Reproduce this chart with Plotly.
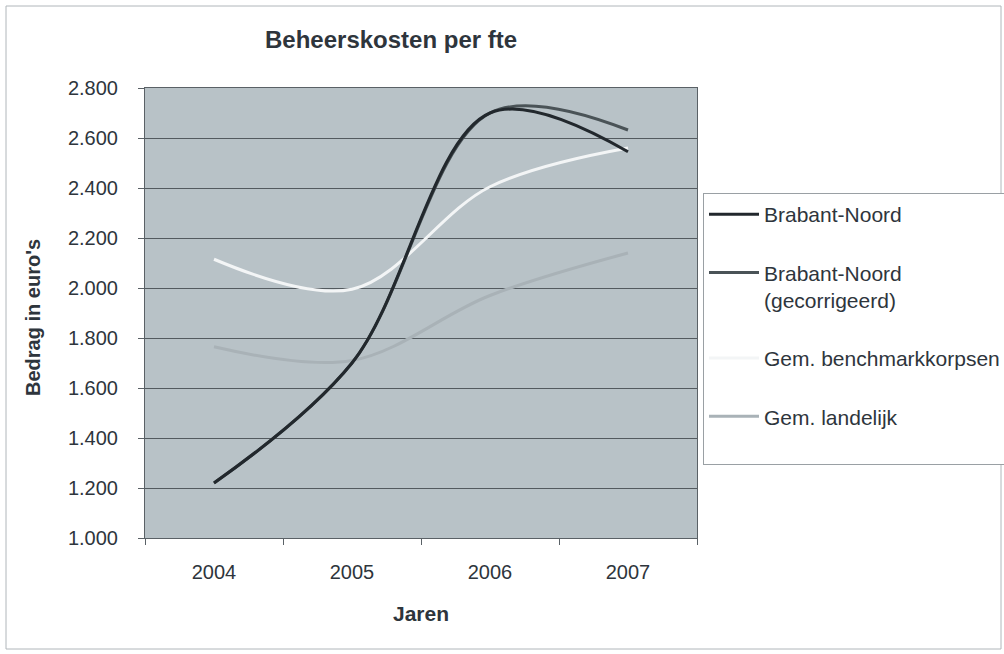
import plotly.graph_objects as go

years = ["2004", "2005", "2006", "2007"]
brabant_noord = [1220, 1700, 2700, 2545]
brabant_noord_gecorrigeerd = [1220, 1700, 2700, 2632]
gem_benchmarkkorpsen = [2115, 1995, 2405, 2560]
gem_landelijk = [1765, 1710, 1970, 2140]

series_names = ["Brabant-Noord", "Brabant-Noord<br>(gecorrigeerd)",
                "Gem. benchmarkkorpsen", "Gem. landelijk<br> "]

FONT = "Arial, Liberation Sans, sans-serif"
TXT = "#2e353c"

W, H = 1004, 654
L, R, T, B = 145, 697, 88, 538
pw, ph = R - L, B - T


def px(x):
    return (x - L) / pw


def py(y):
    return (B - y) / ph


fig = go.Figure()
# draw order: lighter lines first, Brabant-Noord on top
order = [
    (3, gem_landelijk, "#a9b2b7"),
    (2, gem_benchmarkkorpsen, "#f3f5f6"),
    (1, brabant_noord_gecorrigeerd, "#4a5357"),
    (0, brabant_noord, "#22282d"),
]
for idx, vals, col in order:
    fig.add_trace(go.Scatter(
        x=years, y=vals, mode="lines", name=series_names[idx],
        line=dict(color=col, width=3, shape="spline", smoothing=1.0),
        legendrank=idx + 1, legendgroup=str(idx),
    ))

fig.update_layout(
    width=W, height=H,
    margin=dict(l=L, r=W - R, t=T, b=H - B, pad=0, autoexpand=False),
    paper_bgcolor="white",
    plot_bgcolor="#b8c2c7",
    separators=",.",
    font=dict(family=FONT, size=20, color=TXT),
    showlegend=True,
    legend=dict(
        x=px(703), y=py(193), xanchor="left", yanchor="top",
        bgcolor="white", bordercolor="#9aa0a4", borderwidth=1,
        font=dict(family=FONT, size=21, color=TXT),
        valign="top", tracegroupgap=28, itemwidth=50,
        traceorder="grouped",
    ),
    xaxis=dict(
        type="category", range=[-0.5, 3.5], showgrid=False,
        tickson="boundaries",
        ticks="outside", ticklen=6, tickcolor="#5a6166",
        showline=True, linecolor="#5a6166", linewidth=1, mirror=True,
        ticklabelstandoff=16,
        tickfont=dict(family=FONT, size=20, color=TXT),
        title=dict(text="<b>Jaren</b>", standoff=24,
                   font=dict(family=FONT, size=21, color=TXT)),
    ),
    yaxis=dict(
        range=[1000, 2800], dtick=200, tickformat=",.0f",
        showgrid=True, gridcolor="#535a5f", gridwidth=1,
        ticks="outside", ticklen=6, tickcolor="#5a6166",
        showline=True, linecolor="#5a6166", linewidth=1, mirror=True,
        ticklabelstandoff=16, zeroline=False,
        tickfont=dict(family=FONT, size=20, color=TXT),
    ),
    annotations=[
        dict(text="<b>Beheerskosten per fte</b>", xref="paper", yref="paper",
             x=px(391), y=py(40), xanchor="center", yanchor="middle",
             showarrow=False, font=dict(family=FONT, size=24, color=TXT)),
        dict(text="<b>Bedrag in euro's</b>", xref="paper", yref="paper",
             x=px(33), y=py(318), xanchor="center", yanchor="middle",
             textangle=-90, showarrow=False,
             font=dict(family=FONT, size=20, color=TXT)),
    ],
    shapes=[
        dict(type="rect", xref="paper", yref="paper",
             x0=px(6), x1=px(1001), y0=py(649), y1=py(6),
             line=dict(color="#b0b6ba", width=1), layer="below"),
    ],
)

fig.write_html("out.html",
               config={"displayModeBar": False},
               post_script="document.body.style.margin='0';"
                           "document.body.style.overflow='hidden';")
